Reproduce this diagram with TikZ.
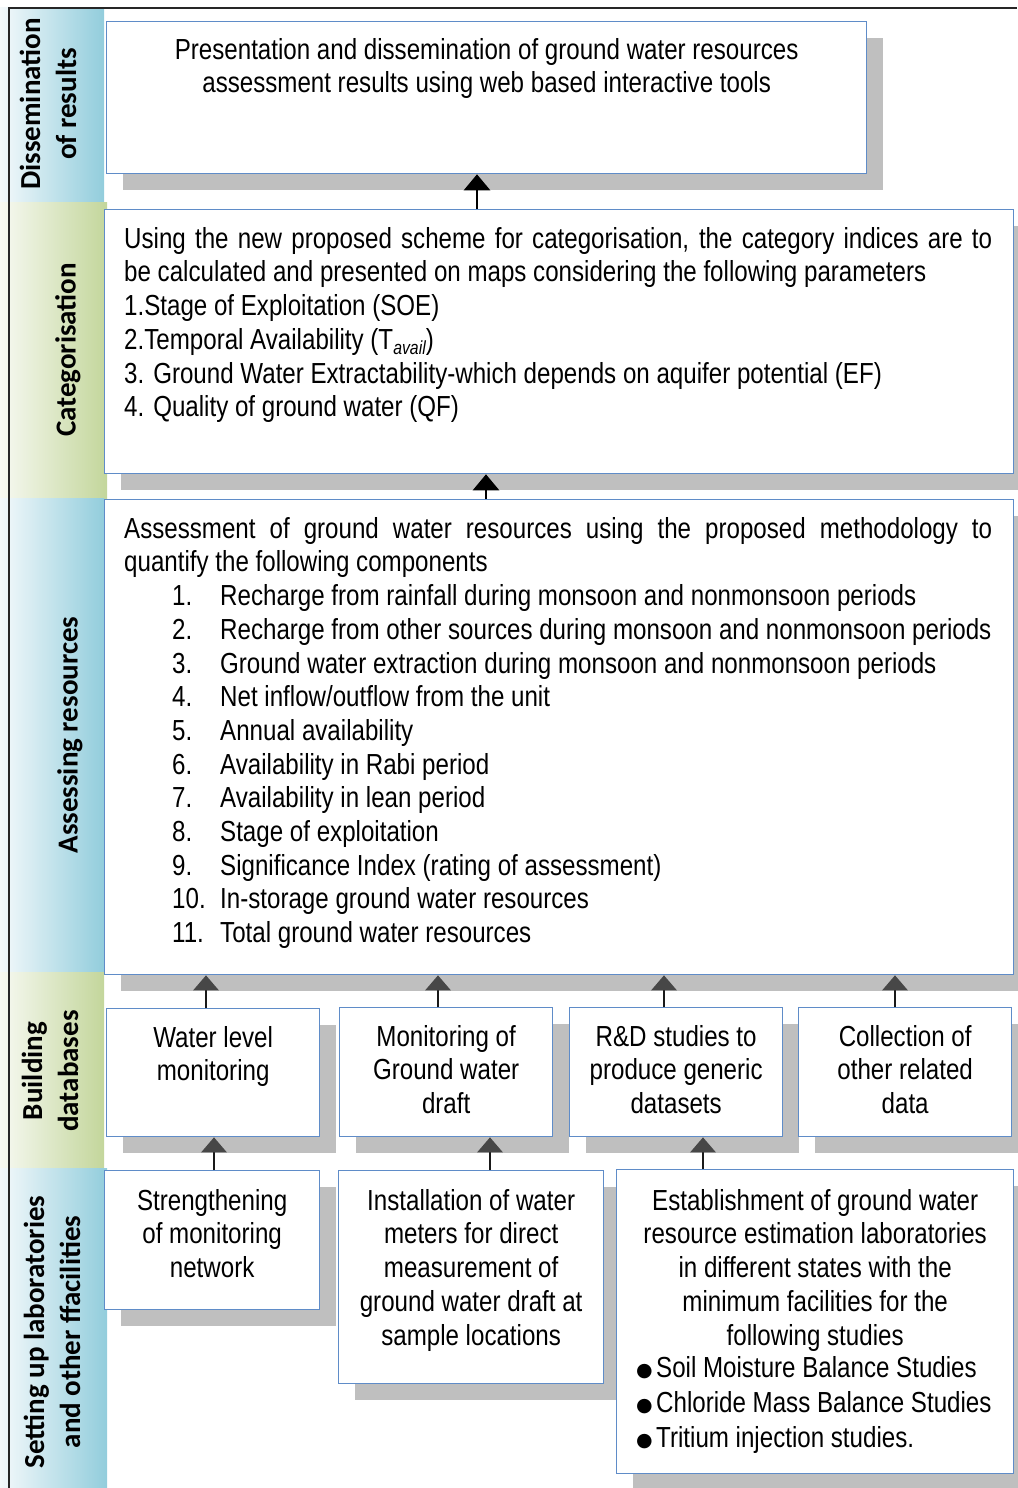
\documentclass[tikz,border=0pt]{standalone}
\usepackage{fontspec}
\usepackage{graphicx}
\setmainfont{Liberation Sans}[FakeStretch=0.832]
\newfontfamily\labfont{Carlito}
\newfontfamily\bulfont{DejaVu Sans}
\usetikzlibrary{arrows.meta,shadows,calc}
\definecolor{boxblue}{RGB}{95,140,200}
\definecolor{shgray}{RGB}{191,191,191}
\definecolor{bandblue}{RGB}{146,205,220}
\definecolor{bandbluel}{RGB}{244,249,251}
\definecolor{bandgreen}{RGB}{195,214,155}
\definecolor{bandgreenl}{RGB}{247,249,242}
\newcommand\bul{\makebox[20pt][l]{\raisebox{1pt}{\bulfont\fontsize{19}{19}\selectfont ●}}}
\newcommand\itm[1]{\hspace*{48pt}\makebox[48pt][l]{#1}}
\begin{document}
\begin{tikzpicture}[x=1pt,y=-1pt,
  box/.style={draw=boxblue, line width=1.3pt, fill=white, inner sep=0pt, anchor=north west,
     drop shadow={shadow xshift=16pt, shadow yshift=-16pt, fill=shgray, opacity=1}},
  txt/.style={inner sep=0pt, font=\fontsize{29}{33.7}\selectfont, align=center},
  lab/.style={inner sep=0pt, rotate=90, font=\labfont\bfseries\fontsize{29}{36}\selectfont, align=center},
  arr/.style={line width=2.8pt, draw=black, -{Triangle[width=26pt,length=16pt]}},
  arrg/.style={line width=2.8pt, draw=black!90, -{Triangle[width=25pt,length=15pt,color=black!72]}},
]
\useasboundingbox (0,0) rectangle (1017,1488);
% left bands
\shade[left color=bandbluel, right color=bandblue] (0,8) rectangle (104,202);
\shade[left color=bandgreenl, right color=bandgreen] (0,202) rectangle (107,498);
\shade[left color=bandbluel, right color=bandblue] (0,498) rectangle (104,972);
\shade[left color=bandgreenl, right color=bandgreen] (0,972) rectangle (104,1168);
\shade[left color=bandbluel, right color=bandblue] (0,1168) rectangle (107,1488);
\fill[white] (0,0) rectangle (1017,7);
\draw[line width=2pt, black!85] (9,1488) -- (9,8) -- (1017,8);

% labels
\node[lab] (l1) at (48,104) {Dissemination\\of results};
\node[lab] (l2) at (68,350) {Categorisation};
\node[lab] (l3) at (70,735) {Assessing resources};
\node[lab] (l4) at (50,1071) {Building\\databases};
\node[lab] (l5) at (52,1332) {Setting up laboratories\\and other ffacilities};

% boxes
\node[box, minimum width=760pt, minimum height=152pt] (b1) at (106,21) {};
\node[box, minimum width=909pt, minimum height=264pt] (b2) at (104,209) {};
\node[box, minimum width=909pt, minimum height=475pt] (b3) at (104,499) {};
\node[box, minimum width=213pt, minimum height=128pt] (c1) at (106,1008) {};
\node[box, minimum width=213pt, minimum height=129pt] (c2) at (339,1007) {};
\node[box, minimum width=213pt, minimum height=129pt] (c3) at (569,1007) {};
\node[box, minimum width=213pt, minimum height=129pt] (c4) at (798,1007) {};
\node[box, minimum width=215pt, minimum height=139pt] (s1) at (104,1170) {};
\node[box, minimum width=265pt, minimum height=213pt] (s2) at (338,1170) {};
\node[box, minimum width=397pt, minimum height=304pt] (s3) at (616,1169) {};

% texts
\node[txt, anchor=north] (t1) at ([yshift=-17pt]b1.north) {Presentation and dissemination of ground water resources\\assessment results using web based interactive tools};
\node[txt, anchor=north west, text width=868pt, align=justify] (t2) at (124,227) {Using the new proposed scheme for categorisation, the category indices are to\linebreak be calculated and presented on maps considering the following parameters\\
1.Stage of Exploitation (SOE)\\
2.Temporal Availability (T\raisebox{-5pt}{\fontsize{19}{19}\selectfont\itshape avail})\\
3. Ground Water Extractability-which depends on aquifer potential (EF)\\
4. Quality of ground water (QF)};
\node[txt, anchor=north west, text width=868pt, align=justify] (t3) at (124,517) {Assessment of ground water resources using the proposed methodology to\linebreak quantify the following components\\
\itm{1.}Recharge from rainfall during monsoon and nonmonsoon periods\\
\itm{2.}Recharge from other sources during monsoon and nonmonsoon periods\\
\itm{3.}Ground water extraction during monsoon and nonmonsoon periods\\
\itm{4.}Net inflow/outflow from the unit\\
\itm{5.}Annual availability\\
\itm{6.}Availability in Rabi period\\
\itm{7.}Availability in lean period\\
\itm{8.}Stage of exploitation\\
\itm{9.}Significance Index (rating of assessment)\\
\itm{10.}In-storage ground water resources\\
\itm{11.}Total ground water resources};
\node[txt, anchor=north] (tc1) at ([yshift=-18pt]c1.north) {Water level\\monitoring};
\node[txt, anchor=north] (tc2) at ([yshift=-18pt]c2.north) {Monitoring of\\Ground water\\draft};
\node[txt, anchor=north] (tc3) at ([yshift=-18pt]c3.north) {R\&D studies to\\produce generic\\datasets};
\node[txt, anchor=north] (tc4) at ([yshift=-18pt]c4.north) {Collection of\\other related\\data};
\node[txt, anchor=north] (ts1) at ([yshift=-19pt]s1.north) {Strengthening\\of monitoring\\network};
\node[txt, anchor=north] (ts2) at ([yshift=-19pt]s2.north) {Installation of water\\meters for direct\\measurement of\\ground water draft at\\sample locations};
\node[txt, anchor=north] (ts3) at ([yshift=-20pt]s3.north) {Establishment of ground water\\resource estimation laboratories\\in different states with the\\minimum facilities for the\\following studies};
\node[txt, anchor=north west, align=left, font=\fontsize{29}{35}\selectfont] (ts3b) at (636,1356) {\bul Soil Moisture Balance Studies\\\bul Chloride Mass Balance Studies\\\bul Tritium injection studies.};

% arrows
\coordinate (x1) at (477,0);
\coordinate (x2) at (486,0);
\coordinate (x3) at (206,0);
\coordinate (x4) at (438,0);
\coordinate (x5) at (664,0);
\coordinate (x6) at (895,0);
\coordinate (x7) at (214,0);
\coordinate (x8) at (490,0);
\coordinate (x9) at (703,0);
\draw[arr] (x1 |- b2.north) -- (x1 |- b1.south);
\draw[arr] (x2 |- b3.north) -- (x2 |- b2.south);
\draw[arrg] (x3 |- c1.north) -- (x3 |- b3.south);
\draw[arrg] (x4 |- c2.north) -- (x4 |- b3.south);
\draw[arrg] (x5 |- c3.north) -- (x5 |- b3.south);
\draw[arrg] (x6 |- c4.north) -- (x6 |- b3.south);
\draw[arrg] (x7 |- s1.north) -- (x7 |- c1.south);
\draw[arrg] (x8 |- s2.north) -- (x8 |- c2.south);
\draw[arrg] (x9 |- s3.north) -- (x9 |- c3.south);
\end{tikzpicture}
\end{document}
